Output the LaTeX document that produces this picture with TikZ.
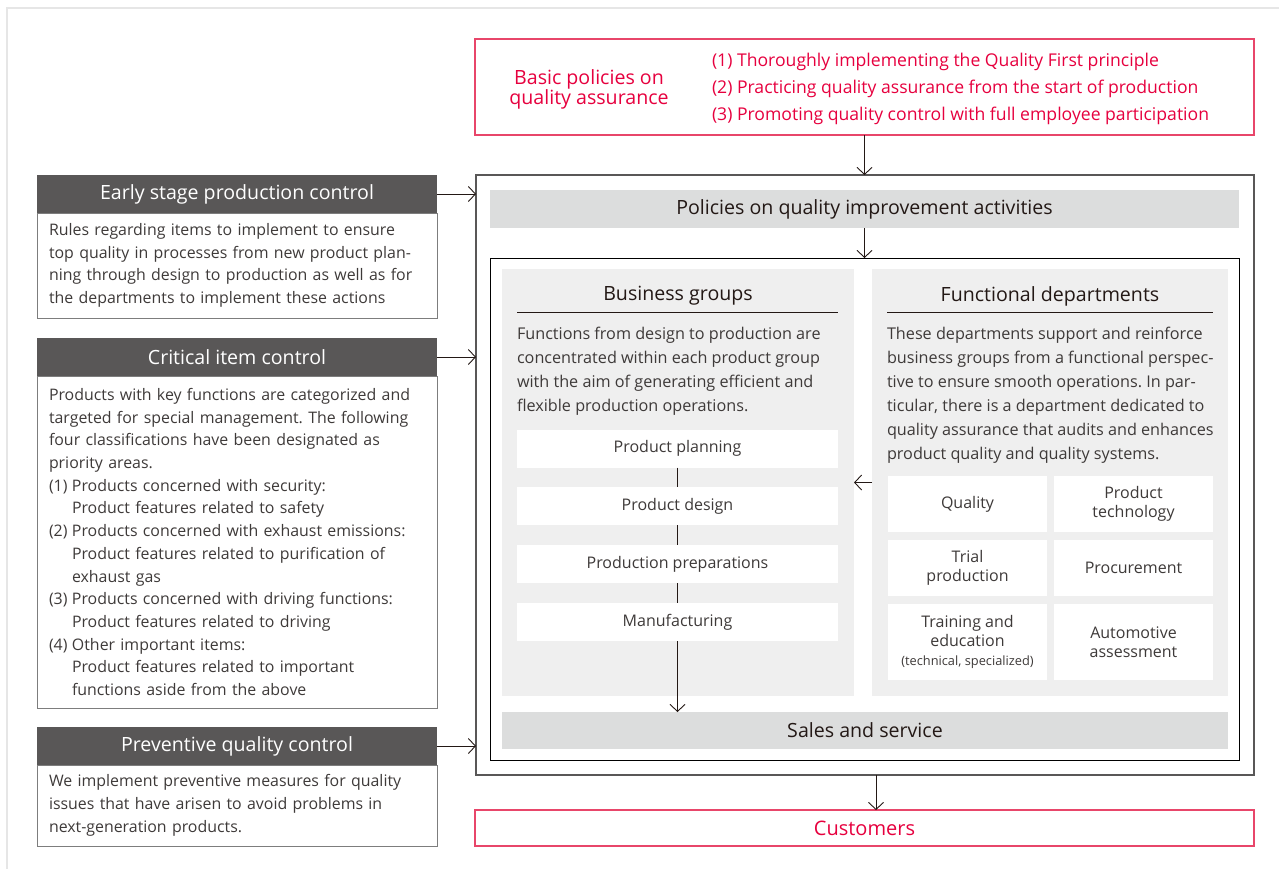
\documentclass[tikz,border=0pt]{standalone}
\usepackage{fontspec}
\setmainfont{Open Sans}
\usepackage{xcolor}
\usetikzlibrary{arrows.meta,positioning}
\definecolor{qred}{HTML}{E6003E}
\definecolor{qredline}{HTML}{E8466A}
\definecolor{hdrgray}{HTML}{595757}
\definecolor{bargray}{HTML}{DCDDDD}
\definecolor{panelgray}{HTML}{EFEFEF}
\definecolor{framegray}{HTML}{7D7D7D}
\definecolor{framelight}{HTML}{E6E6E6}
\definecolor{txtdark}{HTML}{231815}
\definecolor{txtgray}{HTML}{3E3A39}
\frenchspacing

\begin{document}
\begin{tikzpicture}[x=1pt, y=-1pt,
    every node/.style={inner sep=0pt, outer sep=0pt},
    redframe/.style={rectangle, draw=qredline, line width=1.2pt},
    hdr/.style={rectangle, fill=hdrgray, text=white, minimum width=400pt, minimum height=38pt, font=\fontsize{19.6}{22}\selectfont},
    bodybox/.style={rectangle, draw=framegray, line width=0.8pt, text width=376pt, inner xsep=12pt, align=left, font=\fontsize{15.9}{22.7}\selectfont, text=txtgray},
    graybar/.style={rectangle, fill=bargray, font=\fontsize{19.6}{22}\selectfont, text=txtdark},
    panel/.style={rectangle, fill=panelgray, minimum height=427pt},
    paneltext/.style={anchor=west, align=left, font=\fontsize{16.2}{24}\selectfont, text=txtgray},
    stepbox/.style={rectangle, fill=white, minimum width=321pt, minimum height=38pt, font=\fontsize{16}{18}\selectfont, text=txtgray},
    cell/.style={rectangle, fill=white, minimum width=159pt, align=center, font=\fontsize{16}{19}\selectfont, text=txtgray},
    arr/.style={-{Straight Barb[length=7pt,width=15pt]}, line width=0.9pt, draw=txtdark}
]
\useasboundingbox (0,0) rectangle (1279,868);
\draw[framelight, line width=2pt] (7,880) -- (7,8) -- (1290,8);

% basic policies
\node[redframe, minimum width=779pt, minimum height=96pt] (policy) at (864.5,87) {};
\node[align=center, text=qred, font=\fontsize{19.6}{20}\selectfont] (policyname) at (589,89) {Basic policies on\\quality assurance};
\node[anchor=west, align=left, text=qred, font=\fontsize{17.6}{27}\selectfont] (policylist) at (712,89) {(1) Thoroughly implementing the Quality First principle\\(2) Practicing quality assurance from the start of production\\(3) Promoting quality control with full employee participation};

% left column
\node[hdr] (earlyhdr) at (237,194) {Early stage production control};
\node[bodybox, minimum height=105pt, below=0pt of earlyhdr] (earlybody) {Rules regarding items to implement to ensure\\top quality in processes from new product plan-\\ning through design to production as well as for\\the departments to implement these actions};
\node[hdr] (crithdr) at (237,357) {Critical item control};
\node[bodybox, minimum height=332pt, below=0pt of crithdr] (critbody) {Products with key functions are categorized and\\targeted for special management. The following\\four classifications have been designated as\\priority areas.\\
\makebox[23pt][l]{(1)}Products concerned with security:\\\hspace*{23pt}Product features related to safety\\
\makebox[23pt][l]{(2)}Products concerned with exhaust emissions:\\\hspace*{23pt}Product features related to purification of\\\hspace*{23pt}exhaust gas\\
\makebox[23pt][l]{(3)}Products concerned with driving functions:\\\hspace*{23pt}Product features related to driving\\
\makebox[23pt][l]{(4)}Other important items:\\\hspace*{23pt}Product features related to important\\\hspace*{23pt}functions aside from the above};
\node[hdr] (prevhdr) at (237,746) {Preventive quality control};
\node[bodybox, minimum height=81pt, below=0pt of prevhdr] (prevbody) {We implement preventive measures for quality\\issues that have arisen to avoid problems in\\next-generation products.};

% main block
\node[rectangle, draw=hdrgray, line width=1.3pt, minimum width=778pt, minimum height=600pt] (main) at (865,475) {};
\node[graybar, minimum width=749pt, minimum height=38pt] (improve) at (864.5,209) {Policies on quality improvement activities};
\node[rectangle, draw=black, line width=0.9pt, minimum width=749pt, minimum height=502pt] (inner) at (864.5,509) {};
\node[panel, minimum width=352pt] (busi) at (678,482.5) {};
\node[panel, minimum width=356pt] (func) at (1050,482.5) {};

% business groups
\node[font=\fontsize{19.6}{22}\selectfont, text=txtdark] (busititle) at (678,296) {Business groups};
\draw[txtdark, line width=0.9pt] (517,312) -- (838,312);
\node[paneltext] (busitext) at (517,371) {Functions from design to production are\\concentrated within each product group\\with the aim of generating efficient and\\flexible production operations.};
\node[stepbox] (plan) at (677.5,448.5) {Product planning};
\node[stepbox] (design) at (677.5,506) {Product design};
\node[stepbox] (prep) at (677.5,564) {Production preparations};
\node[stepbox] (manu) at (677.5,622) {Manufacturing};
\draw[txtdark, line width=0.9pt] (plan) -- (design);
\draw[txtdark, line width=0.9pt] (design) -- (prep);
\draw[txtdark, line width=0.9pt] (prep) -- (manu);

% functional departments
\node[font=\fontsize{19.6}{22}\selectfont, text=txtdark] (functitle) at (1050,296) {Functional departments};
\draw[txtdark, line width=0.9pt] (887,312) -- (1213,312);
\node[paneltext] (functext) at (887,395) {These departments support and reinforce\\business groups from a functional perspec-\\tive to ensure smooth operations. In par-\\ticular, there is a department dedicated to\\quality assurance that audits and enhances\\product quality and quality systems.};
\node[cell, minimum height=56pt] (quality) at (967.5,504) {Quality};
\node[cell, minimum height=56pt] (tech) at (1133.5,504) {Product\\technology};
\node[cell, minimum height=56pt] (trial) at (967.5,568) {Trial\\production};
\node[cell, minimum height=56pt] (procure) at (1133.5,568) {Procurement};
\node[cell, minimum height=76pt] (train) at (967.5,642) {Training and\\education\\{\fontsize{12.8}{19}\selectfont(technical, specialized)}};
\node[cell, minimum height=76pt] (assess) at (1133.5,642) {Automotive\\assessment};

\node[graybar, minimum width=726pt, minimum height=37pt] (sales) at (865,730.5) {Sales and service};
\node[redframe, minimum width=779pt, minimum height=36pt, text=qred, font=\fontsize{20}{22}\selectfont] (cust) at (864.5,828) {Customers};

% connectors
\draw[arr] (policy.south) -- (policy.south |- main.north);
\draw[arr] (improve.south) -- (improve.south |- inner.north);
\draw[arr] (earlyhdr.east) -- (earlyhdr.east -| main.west);
\draw[arr] (crithdr.east) -- (crithdr.east -| main.west);
\draw[arr] (prevhdr.east) -- (prevhdr.east -| main.west);
\draw[arr] (func.west) -- (busi.east);
\draw[arr] (manu.south) -- (manu.south |- sales.north);
\coordinate (outlet) at ([xshift=11pt]main.south);
\draw[arr] (outlet) -- (outlet |- cust.north);
\end{tikzpicture}
\end{document}
